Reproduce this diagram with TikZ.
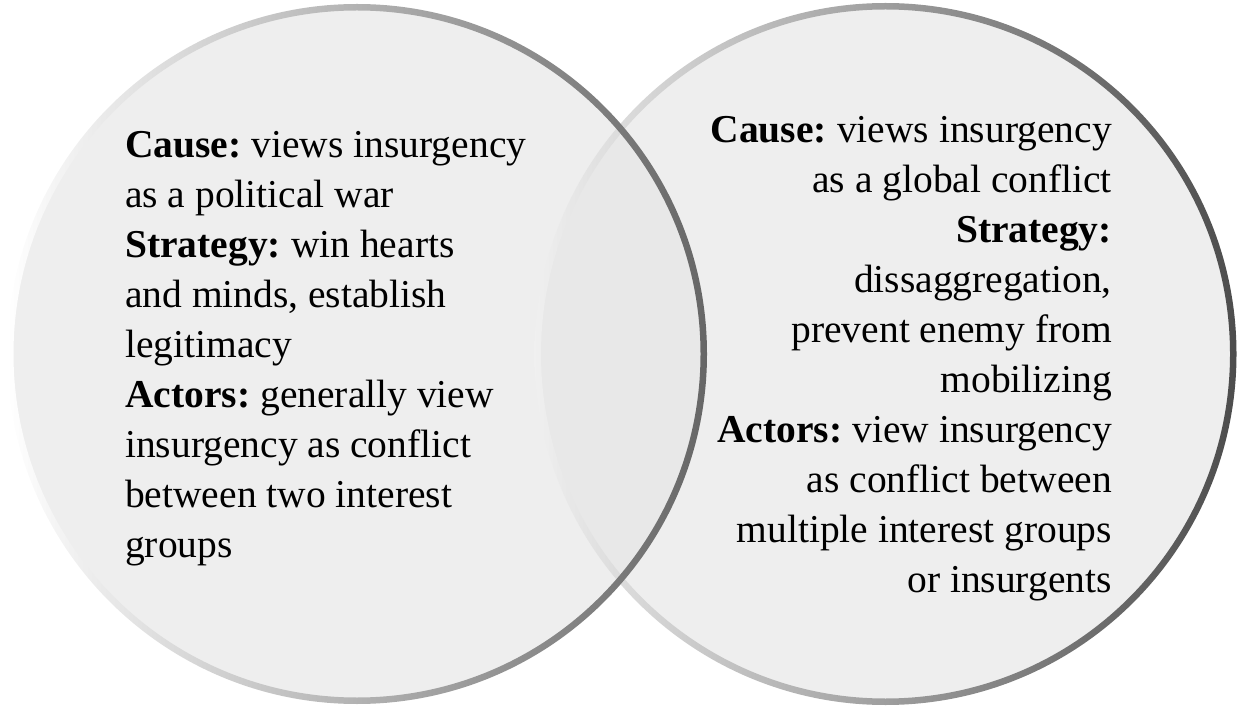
\documentclass[tikz,border=0pt]{standalone}
\usepackage{fontspec}
\setmainfont{Liberation Serif}
\newcommand{\lbl}[1]{\textbf{#1}\kern-3pt\relax}
\begin{document}
\begin{tikzpicture}[x=1pt,y=-1pt,
  vtext/.style={font=\fontsize{39.5}{50}\selectfont, inner sep=0pt, text=black},
]
\definecolor{venfill}{HTML}{EEEEEE}
\definecolor{venover}{HTML}{E8E8E8}
\path[use as bounding box] (0,0) rectangle (1239,708);
\coordinate (L) at (357,354);
\coordinate (R) at (885.5,354);
% fills
\fill[venfill] (L) circle (347);
\fill[venfill] (R) circle (348);
\begin{scope}
  \clip (L) circle (347);
  \fill[venover] (R) circle (348);
\end{scope}
% rings
\shade[even odd rule, left color=black!6, right color=black!70] (R) circle (351) (R) circle (344.5);
\shade[even odd rule, left color=white, right color=black!60] (L) circle (350) (L) circle (343.5);
% texts (anchor at baseline of last line)
\node[vtext, anchor=base west, align=left] (lt) at (125,557)
  {\lbl{Cause:} views insurgency\\
   as a political war\\
   \lbl{Strategy:} win hearts\\
   and minds, establish\\
   legitimacy\\
   \lbl{Actors:} generally view\\
   insurgency as conflict\\
   between two interest\\
   groups};
\node[vtext, anchor=base east, align=right] (rt) at (1112,592)
  {\lbl{Cause:} views insurgency\\
   as a global conflict\\
   \textbf{Strategy:}\\
   dissaggregation,\\
   prevent enemy from\\
   mobilizing\\
   \lbl{Actors:} view insurgency\\
   as conflict between\\
   multiple interest groups\\
   or insurgents};
\end{tikzpicture}
\end{document}
